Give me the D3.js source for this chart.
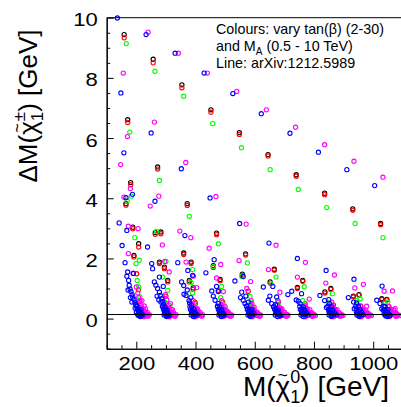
<!DOCTYPE html>
<html><head><meta charset="utf-8">
<script src="https://cdn.jsdelivr.net/npm/d3@7"></script>
<style>
body{margin:0;background:#fff}
svg{display:block}
text{font-family:"Liberation Sans",Arial,Helvetica,sans-serif;fill:#000}
</style>
</head><body>
<svg id="c" width="401" height="407"></svg>
<script>
// ---- axis settings ----
const xDomain = [100, 1100];
const yDomain = [-1, 10];
const xMajorTicks = [200, 400, 600, 800, 1000];
const yMajorTicks = [0, 2, 4, 6, 8, 10];
const refLineMass = [100, 1100];
const refLineDM = [0.135, 0.135];
const legendLines = ["Colours: vary tan(\u03B2) (2-30)", "and M", "Line: arXiv:1212.5989"];

// ---- data: [M(chi0) GeV, dM GeV] ----
const black = [
 [159,9.44],[257,8.62],[354,7.77],[452,6.94],[548,6.18],[645,5.45],[740,4.78],[836,4.17],[931,3.65],[1025,3.16],
 [171,6.61],[272,5.04],[372,3.82],[471,2.84],[569,2.15],[666,1.64],[762,1.27],[857,1.00],[952,0.80],[1046,0.64],
 [181,4.52],[165,3.82],[188,3.04],[208,2.49],[192,2.10],[264,2.86],[283,2.88],[278,1.88],[295,1.71],[306,1.27],
 [360,2.18],[385,1.88],[379,1.27],[392,1.02],[460,1.76],[483,1.30],[558,1.48],[652,1.22],[744,1.04],[837,0.89],
 [933,0.75],[1029,0.66]
];
const red = [
 [159,9.33],[257,8.50],[354,7.67],[452,6.86],[548,6.12],[645,5.40],[740,4.73],[836,4.12],[931,3.60],[1025,3.12],
 [171,6.52],[272,4.97],[372,3.76],[471,2.79],[569,2.11],[666,1.61],[762,1.24],[857,0.97],[952,0.78],[1046,0.62],
 [181,4.45],[165,3.77],[188,2.99],[208,2.38],[192,2.05],[201,1.49],[207,0.96],[212,0.61],[215,0.35],
 [264,2.80],[283,2.82],[278,1.83],[295,1.66],[306,1.22],[300,0.75],[310,0.45],
 [360,2.13],[385,1.83],[379,1.22],[392,0.97],[398,0.55],[403,0.30],
 [460,1.70],[483,1.26],[477,0.94],[492,0.55],[498,0.30],
 [558,1.43],[578,0.91],[590,0.50],[596,0.30],
 [652,1.18],[678,0.60],[686,0.35],
 [744,1.00],[770,0.50],[778,0.30],
 [837,0.85],[866,0.45],[872,0.28],
 [933,0.72],[958,0.42],[965,0.27],
 [1029,0.63],[1052,0.40],[1060,0.25]
];
const green = [
 [166,9.14],[263,8.22],[360,7.39],[458,6.48],[555,5.68],[652,4.95],[747,4.29],[843,3.69],[939,3.16],[1033,2.69],
 [178,6.20],[278,4.59],[379,3.40],[477,2.49],[575,1.85],[672,1.38],[767,1.06],[862,0.83],[956,0.66],[1049,0.55],
 [183,4.07],[169,3.91],
 [195,2.69],[199,1.83],[210,1.94],[203,1.27],[212,0.72],[215,0.45],[208,1.05],[218,0.30],[206,0.55],
 [268,2.90],[289,1.38],[306,0.94],[297,0.55],[313,0.42],[300,1.90],[310,0.25],
 [390,1.63],[385,1.20],[398,0.50],[402,0.30],[390,0.85],
 [460,1.73],[488,1.07],[495,0.45],[500,0.30],[485,0.70],
 [556,1.41],[584,0.74],[592,0.40],[597,0.25],[588,0.55],
 [655,1.16],[683,0.40],[690,0.25],[678,0.60],
 [770,0.45],[776,0.30],[762,0.60],
 [848,0.55],[868,0.35],[874,0.22],
 [950,0.45],[962,0.30],[945,0.60],
 [1040,0.50],[1056,0.30],[1062,0.20]
];
const magenta = [
 [240,9.52],[342,8.82],[440,8.16],[539,7.55],[639,6.94],[738,6.36],[836,5.78],[935,5.23],[1033,4.70],
 [156,8.16],[261,6.53],[367,5.19],[469,4.06],[571,3.14],[672,2.44],[771,1.87],[869,1.45],[967,1.14],[1065,0.92],
 [170,6.05],[147,5.12],[276,4.07],[247,3.74],[347,2.91],[384,2.69],[180,4.32],[158,4.04],
 [173,3.07],[206,2.99],[173,2.16],[190,1.51],[200,1.05],[205,0.85],[208,0.70],[212,0.55],[214,0.45],[218,0.38],
 [220,0.33],[222,0.25],[225,0.28],[228,0.20],[224,0.18],[226,0.12],[230,0.12],[232,0.09],[235,0.14],[238,0.10],
 [241,0.12],[220,0.10],[216,0.20],[219,0.60],[227,0.42],
 [228,0.24],[233,0.17],[237,0.21],[240,0.08],[244,0.13],[231,0.32],[226,0.06],
 [295,0.17],[300,0.36],[305,0.27],[310,0.33],[313,0.15],[318,0.10],[325,0.12],[294,0.45],[311,1.55],[320,0.20],
 [328,0.09],[315,0.50],[303,0.62],[298,0.80],[322,0.30],[288,2.45],[296,1.90],
 [316,0.24],[321,0.16],[326,0.20],[331,0.08],[334,0.13],[318,0.31],[312,0.06],
 [393,1.41],[404,1.03],[368,1.88],[385,0.45],[390,0.38],[395,0.30],[398,0.22],[402,0.18],[405,0.12],[410,0.10],
 [413,0.14],[418,0.10],[400,0.50],[408,0.28],[392,0.60],
 [407,0.23],[412,0.17],[416,0.21],[421,0.08],[424,0.13],[406,0.33],[400,0.06],
 [446,2.34],[485,1.80],[471,1.35],[494,0.90],[485,0.45],[490,0.38],[495,0.30],[498,0.22],[502,0.16],[505,0.12],
 [510,0.10],[515,0.13],[520,0.09],[500,0.40],[507,0.25],[488,0.60],
 [501,0.24],[506,0.17],[512,0.20],[517,0.08],[522,0.12],[499,0.31],[494,0.07],
 [547,1.93],[586,1.23],[573,1.00],[585,0.45],[590,0.38],[594,0.30],[597,0.22],[600,0.16],[604,0.12],[609,0.10],
 [613,0.14],[618,0.09],[598,0.38],[606,0.22],[588,0.60],
 [599,0.24],[603,0.18],[609,0.20],[615,0.08],[620,0.12],[596,0.31],[592,0.06],
 [646,1.63],[685,0.88],[676,0.45],[681,0.36],[686,0.28],[690,0.20],[694,0.15],[698,0.11],[703,0.09],[707,0.13],
 [711,0.10],[692,0.32],[700,0.20],[680,0.55],
 [690,0.24],[696,0.16],[701,0.21],[707,0.08],[712,0.12],[688,0.30],[684,0.07],
 [744,1.38],[784,0.65],[770,0.42],[775,0.34],[780,0.26],[784,0.20],[788,0.14],[792,0.11],[797,0.09],[801,0.13],
 [805,0.10],[786,0.30],[794,0.19],
 [778,0.24],[783,0.17],[789,0.20],[794,0.08],[799,0.12],[777,0.32],[771,0.06],
 [840,1.18],[862,0.42],[867,0.34],[872,0.26],[876,0.20],[880,0.14],[885,0.11],[890,0.09],[894,0.13],[898,0.10],
 [878,0.30],[886,0.19],[860,0.55],
 [872,0.23],[877,0.17],[883,0.20],[888,0.08],[893,0.12],[870,0.31],[866,0.06],
 [938,1.02],[978,0.41],[958,0.40],[963,0.32],[968,0.25],[972,0.19],[976,0.14],[980,0.11],[985,0.09],[990,0.12],
 [994,0.10],[975,0.28],[983,0.18],
 [966,0.24],[971,0.17],[977,0.21],[982,0.08],[987,0.12],[964,0.31],[960,0.06],
 [1037,0.91],[1074,0.33],[1053,0.40],[1058,0.32],[1063,0.25],[1067,0.19],[1071,0.14],[1075,0.11],[1080,0.09],
 [1085,0.12],[1089,0.10],[1070,0.28],[1078,0.18],
 [1061,0.24],[1066,0.17],[1072,0.20],[1077,0.08],[1082,0.12],[1059,0.31],[1055,0.07]
];
const blue = [
 [136,9.99],[233,9.44],[331,8.82],[429,8.16],[526,7.48],[622,6.81],[719,6.16],[815,5.53],[911,4.95],[1005,4.42],
 [148,7.50],[250,6.17],[352,4.98],[449,4.01],[549,3.16],[648,2.51],[744,2.00],[841,1.60],[935,1.31],[1030,1.08],
 [158,5.51],[263,3.90],[364,2.76],[187,4.13],[165,4.02],[168,2.93],
 [142,3.18],[152,2.43],[162,1.86],[168,1.41],[171,1.55],[174,1.27],[176,1.11],[179,0.98],[182,0.90],[186,0.80],
 [188,0.72],[190,1.50],[192,0.64],[195,0.55],[198,0.47],[201,0.40],[204,0.32],[207,0.26],[210,0.20],[212,0.15],
 [215,0.12],[218,0.10],[213,0.09],[196,0.35],[200,0.22],[205,0.14],[208,0.10],[185,0.55],[180,0.70],[172,0.95],
 [204,0.30],[208,0.21],[212,0.23],[202,0.43],[214,0.07],[219,0.16],[222,0.12],[206,0.12],[210,0.28],[216,0.30],
 [238,2.38],[252,1.83],[255,1.66],[261,1.22],[266,1.11],[272,1.00],[278,1.38],[278,0.88],[281,0.77],[286,0.66],
 [289,0.57],[292,0.48],[297,0.39],[300,0.30],[304,0.22],[307,0.17],[311,0.11],[291,1.07],[283,0.55],[288,0.40],
 [294,0.28],[298,0.18],[302,0.12],[306,0.09],[270,0.75],[276,0.62],
 [292,0.31],[296,0.20],[300,0.14],[290,0.41],[302,0.07],[306,0.17],[310,0.12],[294,0.12],[298,0.26],[304,0.29],
 [340,1.86],[353,1.22],[361,0.81],[374,1.60],[390,1.44],[368,0.77],[378,0.60],[386,0.44],[394,0.33],[399,0.20],
 [405,0.13],[372,0.95],[380,0.52],[388,0.28],[392,0.16],[397,0.10],[384,0.70],[360,1.10],
 [383,0.30],[387,0.21],[391,0.14],[381,0.39],[393,0.07],[397,0.17],[401,0.12],[385,0.12],[389,0.26],[395,0.31],
 [463,1.96],[435,1.52],[471,1.07],[455,0.92],[466,0.61],[477,0.50],[482,0.39],[488,0.28],[493,0.19],[497,0.12],
 [474,0.41],[480,0.26],[485,0.16],[491,0.10],[460,0.75],[477,0.90],
 [477,0.31],[481,0.20],[485,0.13],[475,0.40],[487,0.07],[491,0.16],[495,0.12],[479,0.12],[483,0.26],[489,0.30],
 [533,1.25],[561,1.40],[552,0.70],[561,0.61],[567,0.50],[572,0.41],[576,0.33],[582,0.26],[586,0.19],[593,0.13],
 [584,0.10],[556,0.88],[570,0.75],[578,0.55],[590,0.30],[597,0.18],
 [575,0.30],[579,0.21],[583,0.14],[573,0.41],[585,0.07],[589,0.16],[593,0.12],[577,0.12],[581,0.27],[587,0.30],
 [629,1.05],[661,1.07],[674,0.72],[646,0.61],[657,0.50],[663,0.39],[669,0.30],[674,0.22],[681,0.16],[688,0.10],
 [651,0.75],[683,0.13],[677,0.26],[670,0.46],
 [667,0.31],[671,0.20],[675,0.14],[665,0.40],[677,0.07],[681,0.17],[685,0.12],[669,0.12],[673,0.26],[679,0.30],
 [725,0.91],[758,0.83],[712,0.80],[753,0.50],[764,0.39],[769,0.28],[775,0.19],[780,0.12],[759,0.33],[767,0.16],
 [740,0.62],[747,0.58],
 [754,0.30],[758,0.21],[762,0.14],[752,0.40],[764,0.07],[768,0.16],[772,0.12],[756,0.12],[760,0.26],[766,0.31],
 [820,0.77],[850,0.63],[853,0.50],[859,0.39],[864,0.28],[870,0.19],[876,0.12],[842,0.37],[851,0.22],[859,0.11],
 [836,0.60],
 [849,0.30],[853,0.20],[857,0.14],[847,0.41],[859,0.07],[863,0.16],[867,0.12],[851,0.12],[855,0.26],[861,0.30],
 [916,0.70],[944,0.52],[950,0.41],[955,0.30],[961,0.21],[966,0.13],[936,0.33],[944,0.19],[953,0.11],[934,0.55],
 [943,0.31],[947,0.20],[951,0.14],[941,0.40],[953,0.07],[957,0.16],[961,0.12],[945,0.12],[949,0.26],[955,0.30],
 [1012,0.61],[1034,0.28],[1040,0.40],[1045,0.22],[1051,0.14],[1057,0.10],[1029,0.33],[1037,0.16],[1043,0.09],
 [1023,0.50],
 [1038,0.30],[1042,0.20],[1046,0.14],[1036,0.41],[1048,0.07],[1052,0.16],[1056,0.12],[1040,0.12],[1044,0.26],[1050,0.30]
];
const seriesList = [
  {name:"black", color:"#000000", data:black},
  {name:"red", color:"#ff0000", data:red},
  {name:"green", color:"#00ff00", data:green},
  {name:"magenta", color:"#ff00ff", data:magenta},
  {name:"blue", color:"#0000ff", data:blue}
];

// ---- layout ----
const W = 401, H = 407;
const padL = 106.7, padT = 17.7, padR = 402.8, padB = 348.7;
const svg = d3.select("#c");
const x = d3.scaleLinear().domain(xDomain).range([padL, padR]);
const y = d3.scaleLinear().domain(yDomain).range([padB, padT]);

const clipId = "plotclip";
svg.append("clipPath").attr("id", clipId).append("rect")
  .attr("x", padL).attr("y", padT - 4).attr("width", padR - padL).attr("height", padB - padT + 4);

// points
const pts = svg.append("g").attr("clip-path", `url(#${clipId})`);
seriesList.forEach(s => {
  pts.append("g").selectAll("circle").data(s.data).join("circle")
    .attr("cx", d => x(d[0])).attr("cy", d => y(d[1])).attr("r", 2.1)
    .attr("fill", "none").attr("stroke", s.color).attr("stroke-width", 1.1);
});

// reference line
svg.append("path")
  .datum(refLineMass.map((m, i) => [m, refLineDM[i]]))
  .attr("d", d3.line().x(d => x(d[0])).y(d => y(d[1])))
  .attr("stroke", "#000").attr("stroke-width", 1.1).attr("fill", "none");

// frame top
svg.append("line").attr("x1", padL).attr("x2", W).attr("y1", padT).attr("y2", padT)
  .attr("stroke", "#000").attr("stroke-width", 1);

// axes
const fontTick = 19, sxTick = 1.16;
const xMinor = d3.range(100, 1101, 50).filter(v => xMajorTicks.indexOf(v) < 0);
const yMinor = d3.range(-1, 10.01, 0.5).filter(v => yMajorTicks.indexOf(v) < 0);

const gx = svg.append("g").attr("transform", `translate(0,${padB})`);
gx.call(d3.axisBottom(x).tickValues(xMinor).tickSize(-3.5).tickSizeOuter(0).tickFormat(""));
gx.append("g").call(d3.axisBottom(x).tickValues(xMajorTicks).tickSize(-7).tickSizeOuter(0).tickPadding(8).tickFormat(d3.format("d")));
const gy = svg.append("g").attr("transform", `translate(${padL},0)`);
gy.call(d3.axisLeft(y).tickValues(yMinor).tickSize(-3.5).tickSizeOuter(0).tickFormat(""));
gy.append("g").call(d3.axisLeft(y).tickValues(yMajorTicks).tickSize(-7).tickSizeOuter(0).tickPadding(9).tickFormat(d3.format("d")));
svg.selectAll(".domain").attr("stroke", "#000").attr("stroke-width", 1.1);
svg.selectAll(".tick line").attr("stroke", "#000").attr("stroke-width", 1);
svg.selectAll("g[font-family]").attr("font-family", null);
svg.selectAll(".tick text").attr("font-size", fontTick).attr("fill", "#000");
gx.selectAll(".tick text").attr("transform", `scale(${sxTick},1)`).attr("x", 0);
gy.selectAll(".tick text").each(function() {
  const t = d3.select(this);
  const xx = +t.attr("x");
  t.attr("x", xx / sxTick).attr("transform", `scale(${sxTick},1)`).attr("dy", "0.42em");
});

// legend text
const lg = svg.append("g").attr("font-size", 14.3);
lg.append("text").attr("x", 216).attr("y", 34).text(legendLines[0]);
const l2 = lg.append("text").attr("x", 216).attr("y", 51);
l2.append("tspan").text(legendLines[1]);
l2.append("tspan").attr("font-size", 10).attr("dy", 4).text("A");
l2.append("tspan").attr("dy", -4).text(" (0.5 - 10 TeV)");
lg.append("text").attr("x", 216).attr("y", 67.5).text(legendLines[2]);

// axis titles with chi-tilde and stacked sub/superscripts
function chiTitle(g, pre, sup, fs) {
  const sm = Math.round(fs * 0.65);
  const t = g.append("text").attr("x", 0).attr("y", 0).attr("font-size", fs);
  t.append("tspan").text(pre + "(\u03C7");
  t.append("tspan").attr("font-size", sm).attr("dy", fs * 0.24).text("1");
  t.append("tspan").attr("font-size", sm).attr("dx", -sm * 0.556).attr("dy", -fs * 0.70).text(sup);
  t.append("tspan").attr("dy", fs * 0.46).text(") [GeV]");
  const node = t.node();
  const ci = pre.length + 1;
  const s = node.getStartPositionOfChar(ci), e = node.getEndPositionOfChar(ci);
  const total = node.getComputedTextLength();
  g.append("text").attr("x", (s.x + e.x) / 2).attr("y", -fs * 0.55)
    .attr("text-anchor", "middle").attr("font-size", fs * 0.62).text("~");
  return total;
}
const xg = svg.append("g");
const xw = chiTitle(xg, "M", "0", 28);
xg.attr("transform", `translate(${399 - xw},396)`);

const yg = svg.append("g");
const yw = chiTitle(yg, "\u0394M", "\u00B1", 26);
yg.attr("transform", `translate(37,${20 + yw}) rotate(-90)`);
</script>
</body></html>
